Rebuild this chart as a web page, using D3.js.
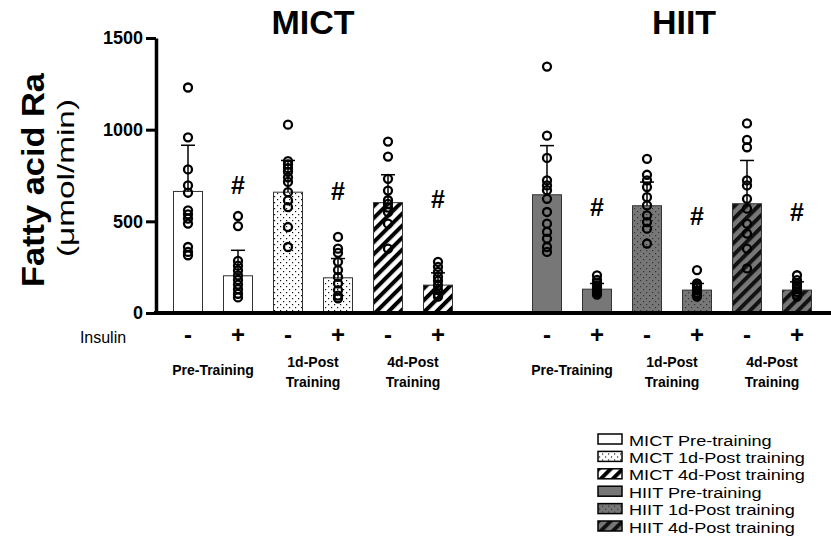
<!DOCTYPE html>
<html>
<head>
<meta charset="utf-8">
<script src="https://cdn.jsdelivr.net/npm/d3@7/dist/d3.min.js"></script>
<style>
  html, body { margin: 0; padding: 0; background: #fff; }
  svg { display: block; font-family: "Liberation Sans", Arial, sans-serif; }
</style>
</head>
<body>
<svg id="chart" width="831" height="541"></svg>
<script>
// ---------------- DATA ----------------
const groups = ["MICT", "HIIT"];
const timepoints = ["Pre-Training", "1d-Post Training", "4d-Post Training"];
const insulinLabels = ["-", "+", "-", "+", "-", "+"];
const conditionKeys = ["pre-", "pre+", "1d-", "1d+", "4d-", "4d+"];
const patterns = ["solid", "solid", "dots", "dots", "stripes", "stripes"];

const meanMICT = [663, 203, 659, 192, 602, 152];
const sdMICT   = [252, 139, 173, 105, 152, 67];
const meanHIIT = [645, 130, 585, 125, 596, 125];
const sdHIIT   = [268, 31, 129, 36, 236, 45];

const pointsMICT = [
  [1230, 958, 783, 696, 656, 560, 538, 515, 488, 360, 333, 315],
  [529, 474, 284, 258, 232, 205, 180, 155, 130, 105, 85],
  [1027, 828, 810, 790, 770, 740, 715, 659, 614, 578, 469, 360],
  [415, 351, 328, 279, 234, 197, 161, 125, 95, 80],
  [935, 853, 732, 668, 615, 595, 575, 550, 487, 351],
  [279, 252, 224, 197, 175, 150, 125, 100, 89]
];
const pointsHIIT = [
  [1344, 967, 846, 723, 696, 670, 623, 551, 487, 442, 406, 360, 333],
  [205, 180, 165, 150, 140, 130, 120, 110, 100],
  [841, 754, 723, 687, 632, 587, 533, 496, 460, 379],
  [234, 161, 150, 140, 125, 110, 100, 90],
  [1034, 944, 904, 723, 696, 623, 569, 487, 433, 351, 243],
  [206, 179, 160, 145, 130, 115, 100, 90]
];
// position (in data units) of the "#" significance marks over the insulin (+) bars
const sigMICT = [696, 668, 620];
const sigHIIT = [578, 529, 549];

const yTicks = [0, 500, 1000, 1500];
const yLabel = "Fatty acid Ra";
const yUnit = "(\u03bcmol/min)";
const legendLabels = [
  "MICT Pre-training", "MICT 1d-Post training", "MICT 4d-Post training",
  "HIIT Pre-training", "HIIT 1d-Post training", "HIIT 4d-Post training"
];

// ---------------- BUILD ----------------
const svg = d3.select("#chart");
const defs = svg.append("defs");

const GRAY = "#777777";

function dotPattern(id, bg, dot) {
  const p = defs.append("pattern").attr("id", id).attr("patternUnits", "userSpaceOnUse")
    .attr("width", 6).attr("height", 6);
  p.append("rect").attr("width", 6).attr("height", 6).attr("fill", bg);
  p.append("rect").attr("x", 1).attr("y", 1).attr("width", 1.2).attr("height", 1.2).attr("fill", dot);
  p.append("rect").attr("x", 4).attr("y", 4).attr("width", 1.2).attr("height", 1.2).attr("fill", dot);
}
function stripePattern(id, bg, fg) {
  const p = defs.append("pattern").attr("id", id).attr("patternUnits", "userSpaceOnUse")
    .attr("width", 8.5).attr("height", 8.5).attr("patternTransform", "rotate(45)");
  p.append("rect").attr("width", 8.5).attr("height", 8.5).attr("fill", bg);
  p.append("rect").attr("x", 0).attr("width", 4).attr("height", 8.5).attr("fill", fg);
}
dotPattern("dotsW", "#fff", "#111");
dotPattern("dotsG", GRAY, "#333");
stripePattern("stripesW", "#fff", "#000");
stripePattern("stripesG", GRAY, "#111");

function fillFor(group, pat) {
  const g = group === "MICT";
  if (pat === "solid") return g ? "#fff" : GRAY;
  if (pat === "dots") return g ? "url(#dotsW)" : "url(#dotsG)";
  return g ? "url(#stripesW)" : "url(#stripesG)";
}

const y = d3.scaleLinear().domain([0, 1500]).range([313, 38]);

const xGroup = d3.scaleBand().domain(groups).range([163, 822]).paddingInner(59 / 359);
const xInner = d3.scaleBand().domain(conditionKeys).range([0, xGroup.bandwidth()])
  .paddingInner(0.42).paddingOuter(0.21);

const table = [];
groups.forEach(g => {
  const means = g === "MICT" ? meanMICT : meanHIIT;
  const sds = g === "MICT" ? sdMICT : sdHIIT;
  const pts = g === "MICT" ? pointsMICT : pointsHIIT;
  conditionKeys.forEach((k, i) => {
    table.push({ group: g, key: k, i, mean: means[i], sd: sds[i], points: pts[i], pattern: patterns[i] });
  });
});
const xc = d => xGroup(d.group) + xInner(d.key) + xInner.bandwidth() / 2;

// Bars
svg.append("g").selectAll("rect").data(table).join("rect")
  .attr("x", d => xGroup(d.group) + xInner(d.key))
  .attr("width", xInner.bandwidth())
  .attr("y", d => y(d.mean))
  .attr("height", d => y(0) - y(d.mean))
  .attr("fill", d => fillFor(d.group, d.pattern))
  .attr("stroke", "#333").attr("stroke-width", 1);

// Error bars (upper only)
const eb = svg.append("g").attr("stroke", "#000").attr("stroke-width", 1.5);
eb.selectAll("line.v").data(table).join("line").attr("class", "v")
  .attr("x1", xc).attr("x2", xc)
  .attr("y1", d => y(d.mean)).attr("y2", d => y(d.mean + d.sd));
eb.selectAll("line.c").data(table).join("line").attr("class", "c")
  .attr("x1", d => xc(d) - 7).attr("x2", d => xc(d) + 7)
  .attr("y1", d => y(d.mean + d.sd)).attr("y2", d => y(d.mean + d.sd));

// Individual points
const ptData = table.flatMap(d => d.points.map(v => ({ d, v })));
svg.append("g").selectAll("circle").data(ptData).join("circle")
  .attr("cx", p => xc(p.d)).attr("cy", p => y(p.v)).attr("r", 4)
  .attr("fill", "none").attr("stroke", "#000").attr("stroke-width", 2.3);

// Significance marks
const sigData = [];
groups.forEach(g => {
  const s = g === "MICT" ? sigMICT : sigHIIT;
  s.forEach((v, j) => sigData.push({ group: g, key: conditionKeys[j * 2 + 1], v }));
});
svg.append("g").selectAll("text").data(sigData).join("text")
  .attr("x", d => xGroup(d.group) + xInner(d.key) + xInner.bandwidth() / 2)
  .attr("y", d => y(d.v)).attr("dy", "0.36em")
  .attr("text-anchor", "middle").attr("font-weight", "bold").attr("font-size", 25)
  .text("#");

// Y axis
const yAxis = svg.append("g").attr("transform", `translate(156,0)`)
  .call(d3.axisLeft(y).tickValues(yTicks).tickFormat(d3.format("d"))
    .tickSize(10).tickSizeOuter(0).tickPadding(3));
yAxis.select(".domain").attr("stroke-width", 3.5).attr("stroke", "#000");
yAxis.selectAll(".tick line").attr("stroke-width", 3).attr("stroke", "#000");
yAxis.selectAll(".tick text").attr("font-size", 18).attr("font-weight", "bold")
  .attr("fill", "#000").attr("font-family", "Liberation Sans, Arial, sans-serif");

// X baseline
svg.append("line").attr("x1", 154).attr("x2", 831).attr("y1", y(0)).attr("y2", y(0))
  .attr("stroke", "#000").attr("stroke-width", 4);

// Y labels
svg.append("text").attr("transform", `translate(44,180) rotate(-90)`)
  .attr("text-anchor", "middle").attr("font-weight", "bold").attr("font-size", 31)
  .attr("textLength", 214).attr("lengthAdjust", "spacingAndGlyphs").text(yLabel);
svg.append("text").attr("transform", `translate(74,178) rotate(-90)`)
  .attr("text-anchor", "middle").attr("font-size", 24)
  .attr("textLength", 158).attr("lengthAdjust", "spacingAndGlyphs").text(yUnit);

// Group titles
const titleShift = { MICT: 0, HIIT: 12 };
svg.append("g").selectAll("text").data(groups).join("text")
  .attr("x", g => xGroup(g) + xGroup.bandwidth() / 2 + titleShift[g]).attr("y", 34)
  .attr("text-anchor", "middle").attr("font-weight", "bold").attr("font-size", 34)
  .text(g => g);

// Insulin row
svg.append("text").attr("x", 103).attr("y", 343).attr("text-anchor", "middle")
  .attr("font-size", 16).text("Insulin");
svg.append("g").selectAll("text").data(table).join("text")
  .attr("x", xc).attr("y", 343).attr("text-anchor", "middle")
  .attr("font-weight", "bold").attr("font-size", 24)
  .text(d => insulinLabels[d.i]);

// Timepoint labels
const tpData = [];
groups.forEach(g => timepoints.forEach((t, j) => tpData.push({ g, t, j })));
const tp = svg.append("g").selectAll("text").data(tpData).join("text")
  .attr("text-anchor", "middle").attr("font-weight", "bold").attr("font-size", 14)
  .attr("transform", d => {
    const a = xGroup(d.g) + xInner(conditionKeys[d.j * 2]);
    const b = xGroup(d.g) + xInner(conditionKeys[d.j * 2 + 1]) + xInner.bandwidth();
    return `translate(${(a + b) / 2},0)`;
  });
tp.each(function(d) {
  const words = d.t.split(" ");
  const el = d3.select(this);
  if (words.length === 1 || d.j === 0) {
    el.append("tspan").attr("x", 0).attr("y", 375).text(d.t);
  } else {
    el.append("tspan").attr("x", 0).attr("y", 367).text(words[0]);
    el.append("tspan").attr("x", 0).attr("y", 387).text(words.slice(1).join(" "));
  }
});

// Legend
const legendFills = [
  fillFor("MICT", "solid"), fillFor("MICT", "dots"), fillFor("MICT", "stripes"),
  fillFor("HIIT", "solid"), fillFor("HIIT", "dots"), fillFor("HIIT", "stripes")
];
const lg = svg.append("g").attr("transform", "translate(598,432)");
const rows = lg.selectAll("g").data(legendLabels).join("g")
  .attr("transform", (d, i) => `translate(0,${i * 17.4})`);
rows.append("rect").attr("x", 0).attr("y", 2).attr("width", 24).attr("height", 10)
  .attr("fill", (d, i) => legendFills[i]).attr("stroke", "#000").attr("stroke-width", 1.5);
rows.append("text").attr("transform", "translate(31,13.5) scale(1.17,1)")
  .attr("font-size", 15.5).text(d => d);
</script>
</body>
</html>
